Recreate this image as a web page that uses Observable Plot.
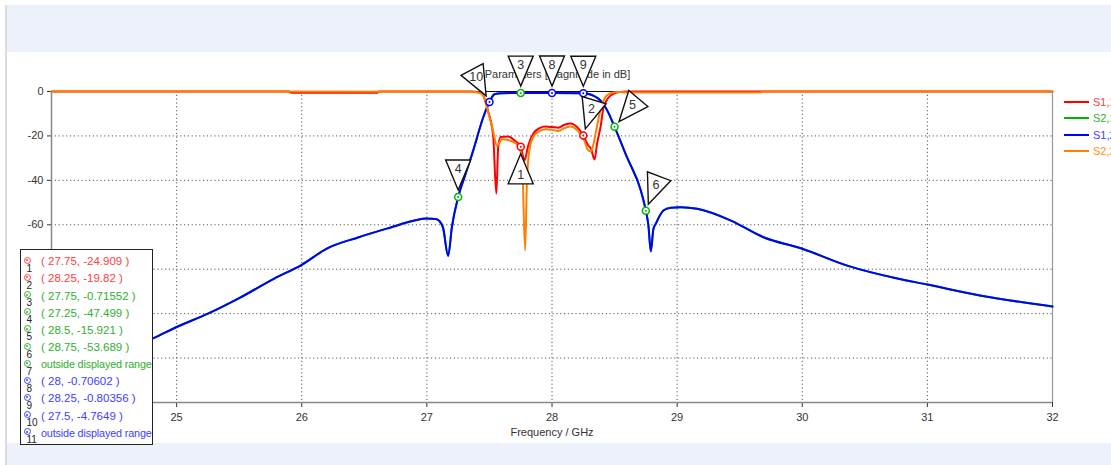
<!DOCTYPE html>
<html><head><meta charset="utf-8">
<script src="https://cdn.jsdelivr.net/npm/d3@7"></script>
<script src="https://cdn.jsdelivr.net/npm/@observablehq/plot@0.6"></script>
<style>
body{margin:0;background:#fff;font-family:"Liberation Sans",Arial,sans-serif;}
#wrap{position:relative;width:1111px;height:465px;overflow:hidden;background:#fff;}
.band{position:absolute;background:#edf2fa;}
#chart{position:absolute;left:0;top:0;}
#box{position:absolute;left:20px;top:249px;width:131px;height:194px;background:#fff;border:1.5px solid #222;}
.icon{position:absolute;width:5px;height:5px;border-radius:50%;border:1.5px solid;}
.idot{position:absolute;left:1.5px;top:1.5px;width:2px;height:2px;border-radius:50%;}
.num{position:absolute;font-size:10px;color:#222;line-height:10px;}
.txt{position:absolute;font-size:11.5px;line-height:12px;white-space:nowrap;}
.txt.out{font-size:10.8px;letter-spacing:-0.15px;}
.leg{position:absolute;left:1064px;width:25px;height:2px;}
.legt{position:absolute;left:1093px;font-size:11px;line-height:12px;white-space:nowrap;}
</style></head>
<body><div id="wrap">
<div class="band" style="left:7px;top:5px;width:1104px;height:47px"></div>
<div class="band" style="left:7px;top:443px;width:1104px;height:22px"></div>
<div style="position:absolute;left:5px;top:5px;width:2px;height:460px;background:#dcdcdc"></div>
<div id="chart"></div>
<div id="legend"></div>
<div id="box"></div>
</div>
<script>
// ---- data ----
const seriesNames = ["S1,1", "S2,1", "S1,2", "S2,2"];
const seriesColors = ["#ff0000", "#00b400", "#0000ff", "#ff8000"];
const labelColors = ["#ff4040", "#30b030", "#4040ff", "#ff8c1a"];

const s12Freq = [24.0, 24.4, 24.815, 25.0, 25.25, 25.5, 25.78, 26.0, 26.2, 26.45, 26.71, 26.9, 27.0, 27.07, 27.1, 27.13, 27.17, 27.2, 27.25, 27.31, 27.37, 27.45, 27.5, 27.54, 27.6, 27.67, 27.75, 28.0, 28.25, 28.3, 28.33, 28.37, 28.41, 28.45, 28.5, 28.6, 28.71, 28.75, 28.77, 28.79, 28.81, 28.83, 28.89, 28.95, 29.03, 29.16, 29.43, 29.69, 30.0, 30.36, 30.76, 31.0, 31.43, 32.0];
const s12Db = [-128, -120, -111, -106, -100, -93, -84.2, -78, -70.7, -65.7, -61.2, -58.1, -57.2, -57.4, -58.3, -61.5, -74, -61, -47.5, -37, -26.6, -11.7, -4.76, -1.2, -0.8, -0.72, -0.716, -0.706, -0.804, -1.2, -1.9, -3.2, -5.5, -9.5, -15.9, -29.7, -44.6, -53.7, -60, -72, -62, -59.5, -53.6, -52.3, -52.1, -52.8, -58.1, -65.6, -70.8, -78.4, -84.2, -86.9, -91.9, -96.8];
// S2,1 coincides with S1,2
const s21Freq = s12Freq;
const s21Db = s12Db;

const s11Freq = [24.0, 25.9, 25.92, 26.6, 26.62, 27.35, 27.42, 27.45, 27.49, 27.53, 27.555, 27.57, 27.59, 27.65, 27.7, 27.75, 27.78, 27.81, 27.85, 27.9, 27.95, 28.0, 28.05, 28.1, 28.15, 28.2, 28.25, 28.29, 28.31, 28.34, 28.36, 28.39, 28.41, 28.45, 28.5, 28.55, 28.6, 32.0];
const s11Db = [0, 0, -0.6, -0.6, 0, 0, -0.5, -1.8, -9, -20, -46, -25, -20.5, -20.3, -22, -24.9, -31, -24.3, -19, -16.5, -15.8, -16, -16.3, -15, -14.4, -16, -19.8, -24.3, -25.5, -30.6, -23.6, -15.3, -7.7, -2.8, -0.8, -0.2, 0, 0];

const s22Freq = [24.0, 27.35, 27.42, 27.45, 27.49, 27.53, 27.56, 27.58, 27.6, 27.65, 27.7, 27.73, 27.76, 27.785, 27.8, 27.82, 27.85, 27.9, 27.95, 28.0, 28.05, 28.1, 28.15, 28.2, 28.25, 28.29, 28.31, 28.33, 28.36, 28.39, 28.42, 28.46, 28.5, 28.55, 28.6, 29.65, 29.7, 32.0];
const s22Db = [0, -0.1, -0.6, -1.8, -9.5, -18, -24.5, -23, -21.5, -21.8, -23, -24.5, -30, -71.5, -40, -26, -20.5, -17.8, -17, -17.2, -17.8, -16.5, -15.8, -17.3, -21, -26.5, -27, -24, -15.5, -7.5, -3, -1, -0.3, -0.2, -0.5, -0.5, 0, 0];

const markerId = [1, 2, 3, 4, 5, 6, 7, 8, 9, 10, 11];
const markerSeries = ["S1,1", "S1,1", "S2,1", "S2,1", "S2,1", "S2,1", "S2,1", "S1,2", "S1,2", "S1,2", "S1,2"];
const markerFreq = [27.75, 28.25, 27.75, 27.25, 28.5, 28.75, null, 28, 28.25, 27.5, null];
const markerDb = [-24.909, -19.82, -0.71552, -47.499, -15.921, -53.689, null, -0.70602, -0.80356, -4.7649, null];
const calloutAngle = [180, 17, 0, 0, 40, 21, null, 0, 0, -28, null];

const xTicks = [25, 26, 27, 28, 29, 30, 31, 32];
const yTicks = [0, -20, -40, -60, -80, -100, -120, -140];
const xGrid = [25, 26, 27, 28, 29, 30, 31];
const yGrid = [-20, -40, -60, -80, -100, -120];

// ---- build ----
const toRows = (f, d) => f.map((x, i) => ({f: x, db: d[i]}));
const series = {
  "S1,1": toRows(s11Freq, s11Db),
  "S2,1": toRows(s21Freq, s21Db),
  "S1,2": toRows(s12Freq, s12Db),
  "S2,2": toRows(s22Freq, s22Db)
};
const colorOf = name => seriesColors[seriesNames.indexOf(name)];
const labelColorOf = name => labelColors[seriesNames.indexOf(name)];

const markers = markerId.map((id, i) => ({
  id, series: markerSeries[i], f: markerFreq[i], db: markerDb[i], angle: calloutAngle[i]
}));
const shown = markers.filter(m => m.f != null);

const pointer = {
  draw(ctx) {
    ctx.moveTo(0, -7);
    ctx.lineTo(-12.5, -37);
    ctx.lineTo(12.5, -37);
    ctx.closePath();
  }
};

const gridStyle = {stroke: "#555", strokeWidth: 1, strokeDasharray: "1.2,2.6"};

const chart = Plot.plot({
  width: 1111,
  height: 465,
  marginLeft: 51,
  marginRight: 59,
  marginTop: 91,
  marginBottom: 63,
  style: {fontFamily: "Liberation Sans, Arial, sans-serif", fontSize: "11px", color: "#333", background: "transparent", overflow: "visible"},
  x: {domain: [24, 32], ticks: xTicks, tickSize: 5, tickPadding: 6, tickFormat: d => String(d), label: null},
  y: {domain: [-140, 0], ticks: yTicks, tickSize: 4, tickPadding: 4, tickFormat: d => String(d), label: null},
  marks: [
    Plot.ruleY(yGrid, {...gridStyle}),
    Plot.ruleX(xGrid, {...gridStyle}),
    Plot.ruleY([0], {stroke: "#111", strokeWidth: 1.2}),
    Plot.ruleY([-140], {stroke: "#888", strokeWidth: 1.5}),
    Plot.ruleX([24], {stroke: "#888", strokeWidth: 1.5}),
    Plot.ruleX([32], {stroke: "#999", strokeWidth: 1.2}),
    ...seriesNames.map(name => Plot.line(series[name], {
      x: "f", y: "db", stroke: colorOf(name), strokeWidth: 2, curve: "monotone-x"
    })),
    Plot.dot(shown, {x: "f", y: "db", r: 3.5, fill: "white", stroke: d => colorOf(d.series), strokeWidth: 1.5}),
    Plot.dot(shown, {x: "f", y: "db", r: 1, fill: d => colorOf(d.series)}),
    Plot.text(["S-Parameters [Magnitude in dB]"], {frameAnchor: "top", dy: -21, fill: "#333", fontSize: 11}),
    Plot.dot(shown, {x: "f", y: "db", symbol: pointer, r: 10, rotate: "angle", fill: "white", stroke: "#111", strokeWidth: 1.4}),
    ...shown.map(m => Plot.text([m], {
      x: "f", y: "db", text: d => String(d.id),
      dx: 28 * Math.sin(m.angle * Math.PI / 180),
      dy: -28 * Math.cos(m.angle * Math.PI / 180),
      fontSize: 12.5, fill: "#333"
    })),
    Plot.text(["Frequency / GHz"], {frameAnchor: "bottom", dy: 33, fill: "#333", fontSize: 11})
  ]
});
document.getElementById("chart").appendChild(chart);

// legend
const legend = document.getElementById("legend");
const legendY = [102, 118, 135, 151];
seriesNames.forEach((name, i) => {
  const l = document.createElement("div");
  l.className = "leg";
  l.style.top = (legendY[i] - 1) + "px";
  l.style.background = seriesColors[i];
  legend.appendChild(l);
  const t = document.createElement("div");
  t.className = "legt";
  t.style.top = (legendY[i] - 6) + "px";
  t.style.color = labelColors[i];
  t.textContent = name;
  legend.appendChild(t);
});

// marker box
const box = document.getElementById("box");
markers.forEach((m, i) => {
  const cy = 11.7 + i * 17.16;
  const c = labelColorOf(m.series);
  const icon = document.createElement("div");
  icon.className = "icon";
  icon.style.left = "2.5px";
  icon.style.top = (cy - 5) + "px";
  icon.style.borderColor = c;
  const dot = document.createElement("div");
  dot.className = "idot";
  dot.style.background = c;
  icon.appendChild(dot);
  box.appendChild(icon);
  const num = document.createElement("div");
  num.className = "num";
  num.style.left = "5.5px";
  num.style.top = (cy + 2) + "px";
  num.textContent = m.id;
  box.appendChild(num);
  const t = document.createElement("div");
  t.className = m.f == null ? "txt out" : "txt";
  t.style.left = "20px";
  t.style.top = (cy - 6.5) + "px";
  t.style.color = c;
  t.textContent = m.f == null ? "outside displayed range" : `( ${m.f}, ${m.db} )`;
  box.appendChild(t);
});
</script>
</body></html>
